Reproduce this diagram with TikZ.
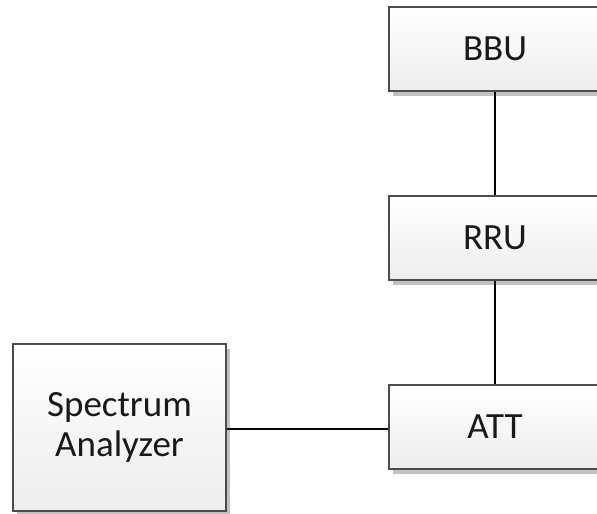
\documentclass[tikz,border=0pt]{standalone}
\usepackage{fontspec}
\setmainfont{Carlito}
\usepackage{tikz}
\usetikzlibrary{shapes, arrows.meta, positioning, shadows}

\begin{document}
\begin{tikzpicture}
  [
    x=1pt, y=-1pt,
    Unit/.style={rectangle, draw=black!70, line width=1.2pt, top color=white, bottom color=black!7,
      drop shadow={shadow xshift=4pt, shadow yshift=-5pt, fill=black!30, opacity=0.8},
      minimum width=212pt, minimum height=84pt, inner sep=0pt, text=black!90,
      font=\fontsize{37}{40}\selectfont, align=center},
    Tall/.style={Unit, minimum width=213pt, minimum height=167pt}
  ]
  \useasboundingbox (0, 0) rectangle (597, 514);
  % Nodes
  \node[Unit] (bbu) at(495, 49) {BBU};
  \node[Unit] (rru) at(495, 238) {RRU};
  \node[Unit] (att) at(495, 427) {ATT};
  \node[Tall] (sa) at(119.5, 427.5) {Spectrum\\Analyzer};
  % Lines
  \path [-, draw, line width=2pt] (bbu) -- (rru);
  \path [-, draw, line width=2pt] (rru) -- (att);
  \path [-, draw, line width=2pt] (sa.east |- 0, 429) -- (att.west |- 0, 429);
\end{tikzpicture}
\end{document}
